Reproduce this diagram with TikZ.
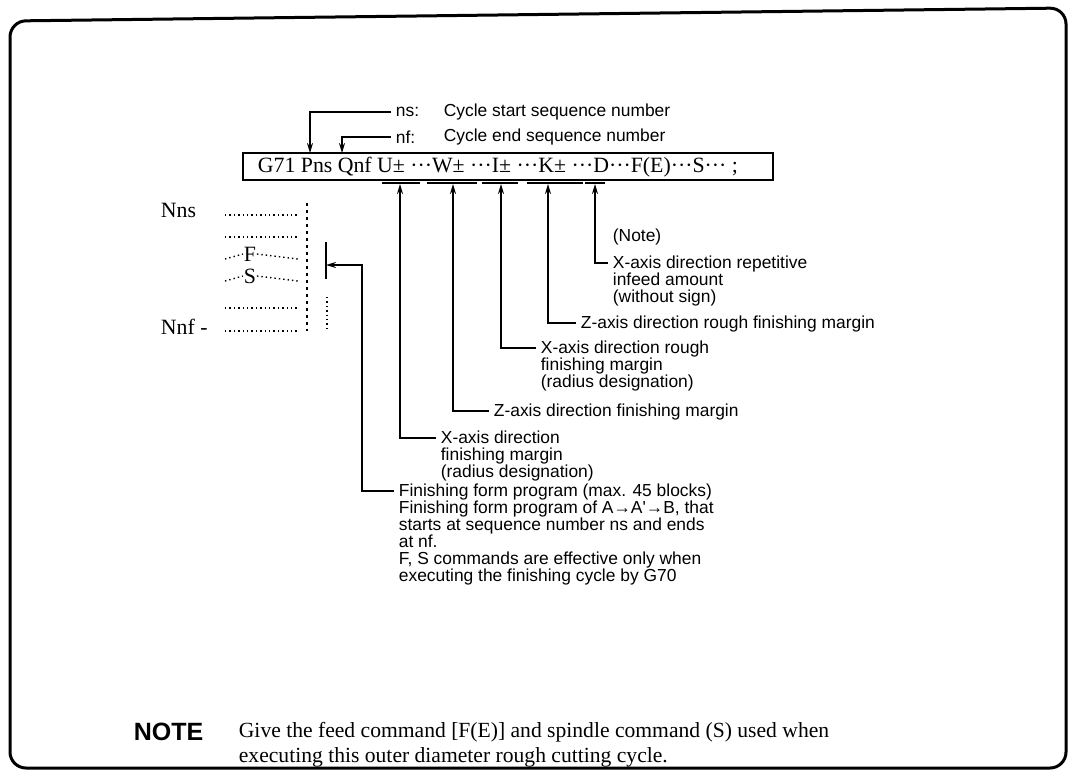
\documentclass[tikz,border=0pt]{standalone}
\usepackage{fontspec}
\setmainfont{Liberation Serif}
\newfontfamily\helv{Liberation Sans}
\usetikzlibrary{arrows.meta}

\begin{document}
\begin{tikzpicture}[x=0.5pt,y=-0.5pt,line width=0.9pt,>={Stealth[length=5pt,width=3pt]}]
    \tikzstyle{remark}=[font=\helv\fontsize{8.7}{8.5}\selectfont,align=left,anchor=north west,inner sep=0pt]
    \tikzstyle{tag}=[font=\helv\fontsize{8.7}{8.5}\selectfont,anchor=west,inner sep=0pt]
    \tikzstyle{prog}=[font=\fontsize{10.9}{12}\selectfont,inner sep=0pt]
    \tikzstyle{dots}=[line width=0.7pt,dash pattern=on 0.7pt off 1.5pt]

    \useasboundingbox (0,0) rectangle (1069,772);
    \draw[line width=1.5pt,rounded corners=8pt] (10,768) -- (10,21) -- (1066,8) -- (1066,768) -- cycle;

    % program block
    \node[draw,line width=0.7pt,minimum width=265pt,minimum height=13.5pt,inner sep=0pt] (cmd) at (508,166.5) {};
    \node[prog,anchor=west] (code) at (257,167) {G71 Pns Qnf U± ···W± ···I± ···K± ···D···F(E)···S··· ;};
    \foreach \a/\b in {382/420,427/477,482/518,527/583,585/605}
      \draw[line width=1.2pt] (\a,183) -- (\b,183);

    % sequence numbers
    \node[tag] (ns)    at (395,112) {ns:};
    \node[tag] (nsdsc) at (443,112) {Cycle start sequence number};
    \node[tag] (nf)    at (395,137) {nf:};
    \node[tag] (nfdsc) at (443,137) {Cycle end sequence number};
    \coordinate (pns) at (310,153);
    \coordinate (qnf) at (342,153);
    \draw[->] ([xshift=-2pt]ns.west) -| (pns);
    \draw[->] ([xshift=-2pt]nf.west) -| (qnf);

    % finishing program listing
    \node[prog,anchor=west] (nns) at (160,210) {Nns};
    \node[prog,anchor=west] (nnf) at (160,327) {Nnf -};
    \node[prog] (f) at (250,254) {F};
    \node[prog] (s) at (250,276) {S};
    \foreach \y in {210,232,303,326}
      \draw[dots] (225,\y+5) -- (298,\y+5);
    \draw[dots] (225,259) -- (f.west);
    \draw[dots] (f.east) -- (298,259);
    \draw[dots] (225,281) -- (s.west);
    \draw[dots] (s.east) -- (298,281);
    \draw[dots,dash pattern=on 1.5pt off 2pt] (307,203) -- (307,331);
    \draw (326,242) -- (326,279);
    \draw[dots] (327,297) -- (327,328);
    \coordinate (brk)  at (326,265);
    \coordinate (bend) at (362,265);

    % address explanations
    \coordinate (tu) at (400,184);
    \coordinate (tw) at (453,184);
    \coordinate (ti) at (501,184);
    \coordinate (tk) at (548,184);
    \coordinate (td) at (595,184);
    \node[tag]    (note) at (612,237) {(Note)};
    \node[remark] (rd) at (612,255) {X-axis direction repetitive\\infeed amount\\(without sign)};
    \node[remark] (rk) at (580,315) {Z-axis direction rough finishing margin};
    \node[remark] (ri) at (540,340) {X-axis direction rough\\finishing margin\\(radius designation)};
    \node[remark] (rw) at (493,403) {Z-axis direction finishing margin};
    \node[remark] (ru) at (440,430) {X-axis direction\\finishing margin\\(radius designation)};
    \node[remark] (fin) at (398,483) {Finishing form program (max. 45 blocks)\\
      Finishing form program of A→A'→B, that\\
      starts at sequence number ns and ends\\
      at nf.\\
      F, S commands are effective only when\\
      executing the finishing cycle by G70};

    \foreach \r/\t in {rd/td,rk/tk,ri/ti,rw/tw,ru/tu}
      \draw[->] ([shift={(-2pt,-4pt)}]\r.north west) -| (\t);
    \draw[->] ([shift={(-2pt,-4pt)}]fin.north west) -| (bend) -- (brk);

    % note
    \node[font=\helv\bfseries\fontsize{12.5}{14}\selectfont,anchor=west,inner sep=0pt] (notehd) at (133,732) {NOTE};
    \node[font=\fontsize{10.8}{12.5}\selectfont,align=left,anchor=north west,inner sep=0pt] (notetx) at (238,721)
      {Give the feed command [F(E)] and spindle command (S) used when\\executing this outer diameter rough cutting cycle.};
\end{tikzpicture}
\end{document}
